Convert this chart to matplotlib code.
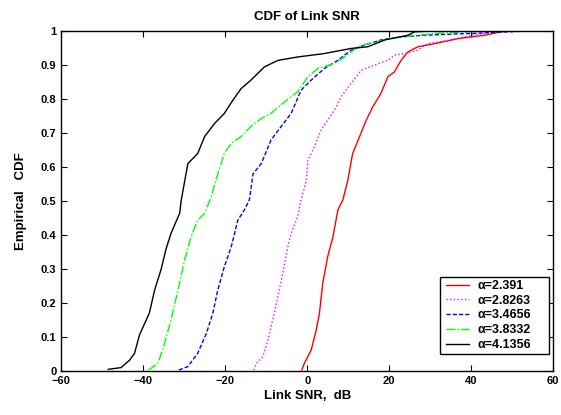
import matplotlib
matplotlib.use("Agg")
import matplotlib.pyplot as plt
from matplotlib.patches import Rectangle

red_x = [-1.3, -0.7, 1.0, 2.2, 3.0, 3.8, 5.0, 6.3, 7.5, 8.7, 9.9, 11.1, 12.8, 14.4, 16.0,
         18.0, 19.7, 21.3, 22.9, 24.6, 27.0, 31.0, 36.8, 43.3, 47.3, 49.0, 60.0]
red_y = [0.003, 0.022, 0.062, 0.12, 0.17, 0.258, 0.336, 0.395, 0.474, 0.503, 0.56, 0.64, 0.69,
         0.738, 0.777, 0.817, 0.866, 0.88, 0.914, 0.939, 0.954, 0.963, 0.978, 0.988, 0.998, 1.0, 1.0]

mag_x = [-13.0, -12.4, -10.8, -9.6, -8.0, -6.3, -4.7, -3.9, -2.3, -1.5, -0.2, 0.2, 1.8, 3.4,
         5.0, 6.7, 8.3, 10.7, 13.2, 16.4, 19.7, 21.3, 23.7, 27.0, 29.4, 35.1, 40.0, 45.7, 49.0]
mag_y = [0.003, 0.022, 0.042, 0.09, 0.17, 0.268, 0.366, 0.405, 0.454, 0.503, 0.56, 0.62, 0.66,
         0.71, 0.738, 0.768, 0.807, 0.846, 0.885, 0.90, 0.914, 0.929, 0.934, 0.944, 0.963, 0.974,
         0.988, 0.998, 1.0]

blue_x = [-31.3, -29.1, -26.7, -24.6, -23.0, -21.8, -20.2, -18.5, -16.9, -15.3, -14.1, -13.2,
          -11.2, -8.8, -6.3, -3.9, -1.5, 1.0, 4.2, 7.5, 10.7, 14.0, 18.0, 22.9, 28.6, 39.2,
          47.3, 53.0]
blue_y = [0.003, 0.013, 0.052, 0.11, 0.17, 0.238, 0.307, 0.366, 0.444, 0.474, 0.503, 0.58,
          0.61, 0.68, 0.72, 0.758, 0.826, 0.856, 0.89, 0.914, 0.944, 0.959, 0.974, 0.983, 0.988,
          0.993, 0.997, 1.0]

green_x = [-38.7, -36.4, -34.8, -33.2, -31.5, -29.9, -28.3, -26.7, -25.0, -23.4, -21.8, -20.2,
           -18.5, -16.1, -13.7, -11.2, -8.8, -5.5, -2.3, 0.2, 2.6, 6.7, 9.1, 12.4, 14.8, 18.9,
           22.9, 31.0, 39.2, 44.0]
green_y = [0.003, 0.022, 0.08, 0.15, 0.238, 0.326, 0.395, 0.444, 0.464, 0.513, 0.58, 0.64,
           0.67, 0.69, 0.72, 0.743, 0.758, 0.792, 0.822, 0.866, 0.89, 0.905, 0.924, 0.954, 0.963,
           0.974, 0.983, 0.993, 0.998, 1.0]

black_x = [-48.5, -45.4, -43.3, -42.1, -40.9, -38.5, -37.2, -35.6, -34.4, -33.2, -31.1, -30.7,
           -29.1, -26.7, -25.0, -22.6, -20.2, -18.1, -16.1, -13.7, -10.4, -7.1, -2.3, 4.2, 10.7,
           14.8, 18.9, 24.6, 26.2, 30.0]
black_y = [0.005, 0.01, 0.032, 0.052, 0.106, 0.17, 0.238, 0.30, 0.36, 0.405, 0.464, 0.503,
           0.61, 0.64, 0.69, 0.728, 0.758, 0.797, 0.831, 0.856, 0.895, 0.914, 0.924, 0.934, 0.949,
           0.954, 0.974, 0.988, 0.998, 1.0]

labels = ["\u03b1=2.391", "\u03b1=2.8263", "\u03b1=3.4656", "\u03b1=3.8332", "\u03b1=4.1356"]
x_ticks = [-60, -40, -20, 0, 20, 40, 60]
y_ticks = [0, 0.1, 0.2, 0.3, 0.4, 0.5, 0.6, 0.7, 0.8, 0.9, 1]

plt.rcParams["font.family"] = ["Liberation Sans", "DejaVu Sans"]
plt.rcParams["font.weight"] = "bold"

fig = plt.figure(figsize=(5.61, 4.15), dpi=100)
ax = fig.add_axes([0.109, 0.106, 0.877, 0.819])

ax.plot(red_x, red_y, color="red", linestyle="-", linewidth=1.0, label=labels[0])
ax.plot(mag_x, mag_y, color="magenta", linestyle=":", linewidth=1.0, label=labels[1])
ax.plot(blue_x, blue_y, color="blue", linestyle="--", linewidth=1.0, dashes=(3, 1.5), label=labels[2])
ax.plot(green_x, green_y, color="#00ff00", linestyle="-.", linewidth=1.0, label=labels[3])
ax.plot(black_x, black_y, color="black", linestyle="-", linewidth=1.0, label=labels[4])

ax.set_xlim(-60, 60)
ax.set_ylim(0, 1)
ax.set_xticks(x_ticks)
ax.set_yticks(y_ticks)
ax.set_yticklabels(["0" if v == 0 else ("1" if v == 1 else f"{v:g}") for v in y_ticks])
ax.tick_params(direction="in", top=True, right=True, labelsize=8, length=4)
for lbl in ax.get_xticklabels() + ax.get_yticklabels():
    lbl.set_fontweight("bold")
for sp in ax.spines.values():
    sp.set_linewidth(1.0)

ax.set_title("CDF of Link SNR", fontsize=9.5, fontweight="bold", pad=8)
ax.set_xlabel("Link SNR,  dB", fontsize=9.5, fontweight="bold", labelpad=3)
ax.set_ylabel("Empirical   CDF", fontsize=9.5, fontweight="bold", labelpad=10)

# MATLAB-style legend box: wider frame with extra space on the right
ax.add_patch(Rectangle((0.770, 0.05), 0.222, 0.226, transform=ax.transAxes,
                       facecolor="white", edgecolor="black", linewidth=1.0, zorder=4))
leg = ax.legend(loc="upper left", bbox_to_anchor=(0.783, 0.268), fontsize=9,
                frameon=False, handlelength=1.8, handletextpad=0.7,
                borderaxespad=0, labelspacing=0.22, borderpad=0)
leg.set_zorder(5)

fig.savefig("out.png", dpi=100)
